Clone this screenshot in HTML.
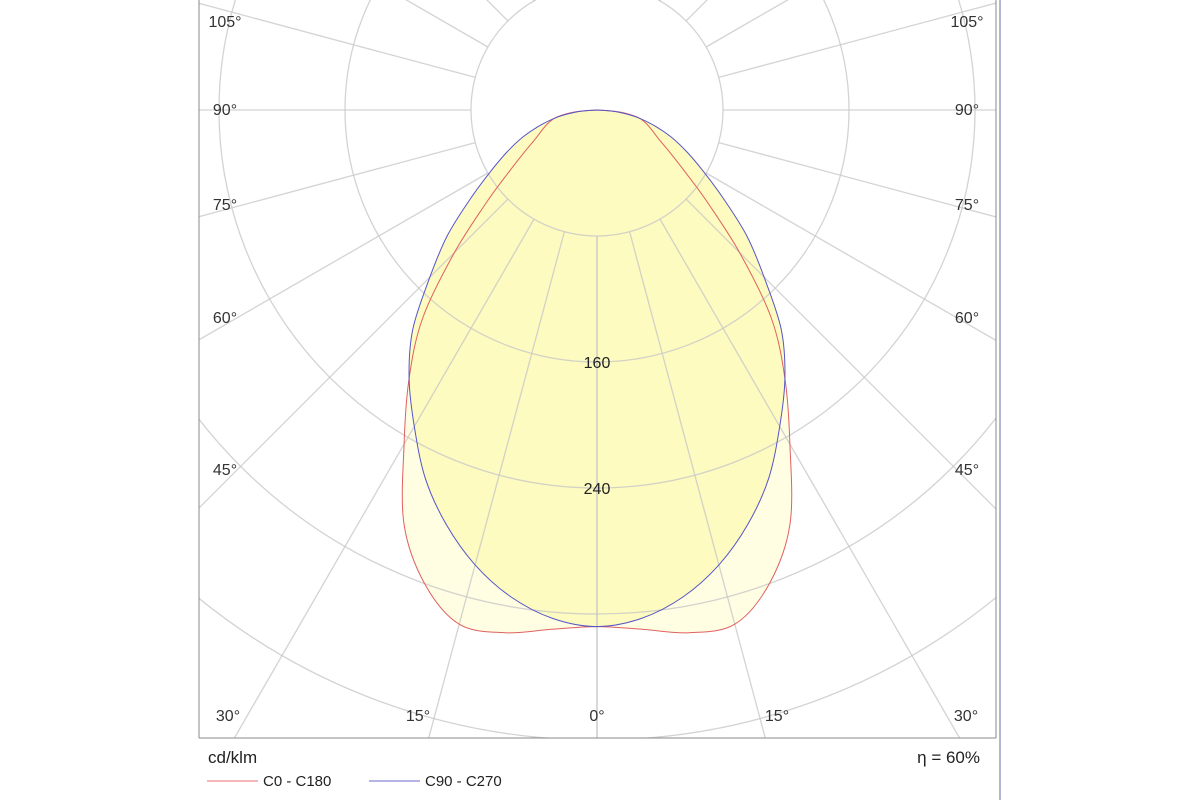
<!DOCTYPE html>
<html><head><meta charset="utf-8"><style>
html,body{margin:0;padding:0;background:#fff;width:1200px;height:800px;overflow:hidden;}
svg{display:block;font-family:"Liberation Sans",sans-serif;}
</style></head><body>
<svg id="chart" width="1200" height="800" viewBox="0 0 1200 800">
<defs><clipPath id="plotclip"><rect x="199" y="0" width="797" height="738"/></clipPath></defs>
<g id="series" clip-path="url(#plotclip)"></g>
<g id="grid" clip-path="url(#plotclip)"></g>
<g id="lines" clip-path="url(#plotclip)"></g>
<g id="labels"></g>
<line x1="199" y1="0" x2="199" y2="738" stroke="#888" stroke-width="1"/>
<line x1="199" y1="738" x2="996" y2="738" stroke="#888" stroke-width="1"/>
<line x1="996" y1="0" x2="996" y2="738" stroke="#888" stroke-width="1"/>
<line x1="1000" y1="0" x2="1000" y2="800" stroke="#6670b0" stroke-width="1"/>
<text x="208" y="763" font-size="17" fill="#222">cd/klm</text>
<text x="980" y="763" font-size="17" fill="#222" text-anchor="end">η = 60%</text>
<g>
<line x1="207" y1="781" x2="258" y2="781" stroke="#e87070" stroke-width="1"/>
<text x="263" y="786" font-size="15" fill="#222">C0 - C180</text></g>
<g>
<line x1="369" y1="781" x2="420" y2="781" stroke="#6868cc" stroke-width="1"/>
<text x="425" y="786" font-size="15" fill="#222">C90 - C270</text></g>
</svg>
<script>
const angles = [0,5,10,15,20,25,30,35,40,45,50,55,60,65,70,75,80,85,90];
const c0Values = [328,331,337,338,320,290,245,208,172,128,92,68,53,43,37,32,26,14,0];
const c90Values = [328,324,314,299,280,258,232,208,182,150,124,98,78,63,50,37,25,12,0];
const ringValues = [80,160,240,320,400];
const ringLabels = ["160","240"];
const ringLabelValues = [160,240];
const spokeAngles = [0,15,30,45,60,75,90,105,120,135,150,165,180];
const sideLabels = ["105°","90°","75°","60°","45°"];
const sideLabelAngles = [105,90,75,60,45];
const bottomLabels = ["30°","15°","0°","15°","30°"];

const cx = 597, cy = 110, pxPerUnit = 126/80;
const NS = "http://www.w3.org/2000/svg";
function rScale(v){ return v*pxPerUnit; }
function pt(deg, v){ const a = deg*Math.PI/180; const r = rScale(v); return [cx + r*Math.sin(a), cy + r*Math.cos(a)]; }
function mk(tag, attrs, parent){ const e = document.createElementNS(NS, tag); for (const k in attrs) e.setAttribute(k, attrs[k]); parent.appendChild(e); return e; }

function curvePath(vals){
  const pts = [];
  for (let i = angles.length-1; i >= 0; i--) pts.push(pt(-angles[i], vals[i]));
  for (let i = 1; i < angles.length; i++) pts.push(pt(angles[i], vals[i]));
  let d = 'M' + pts[0][0].toFixed(1) + ',' + pts[0][1].toFixed(1);
  for (let i = 0; i < pts.length-1; i++) {
    const p0 = pts[Math.max(i-1,0)], p1 = pts[i], p2 = pts[i+1], p3 = pts[Math.min(i+2, pts.length-1)];
    const c1 = [p1[0]+(p2[0]-p0[0])/6, p1[1]+(p2[1]-p0[1])/6];
    const c2 = [p2[0]-(p3[0]-p1[0])/6, p2[1]-(p3[1]-p1[1])/6];
    d += ' C' + c1[0].toFixed(1)+','+c1[1].toFixed(1)+' '+c2[0].toFixed(1)+','+c2[1].toFixed(1)+' '+p2[0].toFixed(1)+','+p2[1].toFixed(1);
  }
  return d + ' Z';
}
const series = document.getElementById('series');
const redFill = mk('path', {d:curvePath(c0Values), fill:'#fffde2', stroke:'none'}, series);


const blueFill = mk('path', {d:curvePath(c90Values), fill:'#fdfbbf', stroke:'none'}, series);



const grid = document.getElementById('grid');
ringValues.forEach(v => {
  const c = mk('circle', {cx:cx, cy:cy, r:rScale(v), fill:'none', stroke:'#c8c8c8', 'stroke-opacity':0.8, 'stroke-width':1.3}, grid);
  
  
});
spokeAngles.forEach(a => {
  [1,-1].forEach(s => {
    const p1 = pt(s*a, 80), p2 = pt(s*a, 700);
    const l = mk('line', {x1:p1[0], y1:p1[1], x2:p2[0], y2:p2[1], stroke:'#c8c8c8', 'stroke-opacity':0.8, 'stroke-width':1.3}, grid);
    
    
  });
});

const lines = document.getElementById('lines');
const redLine = mk('path', {d:curvePath(c0Values), fill:'none', stroke:'#e06060', 'stroke-width':1}, lines);


const blueLine = mk('path', {d:curvePath(c90Values), fill:'none', stroke:'#5555c8', 'stroke-width':1}, lines);



ringLabelValues.forEach((v, i) => {
  const p = pt(0, v);
  const t = mk('text', {x:p[0], y:p[1]+6, 'font-size':16, fill:'#222', 'text-anchor':'middle'}, lines);
  t.textContent = ringLabels[i];
  
  
});

const labels = document.getElementById('labels');
const sideY = [27,115,210,323,475];
sideLabelAngles.forEach((a, i) => {
  const tl = mk('text', {x:225, y:sideY[i], 'font-size':16, fill:'#333', 'text-anchor':'middle'}, labels);
  tl.textContent = sideLabels[i];
  
  
  const tr = mk('text', {x:967, y:sideY[i], 'font-size':16, fill:'#333', 'text-anchor':'middle'}, labels);
  tr.textContent = sideLabels[i];
  
  
});
[228,418,597,777,966].forEach((x, i) => {
  const t = mk('text', {x:x, y:721, 'font-size':16, fill:'#333', 'text-anchor':'middle'}, labels);
  t.textContent = bottomLabels[i];
  
  
});
</script>
</body></html>
